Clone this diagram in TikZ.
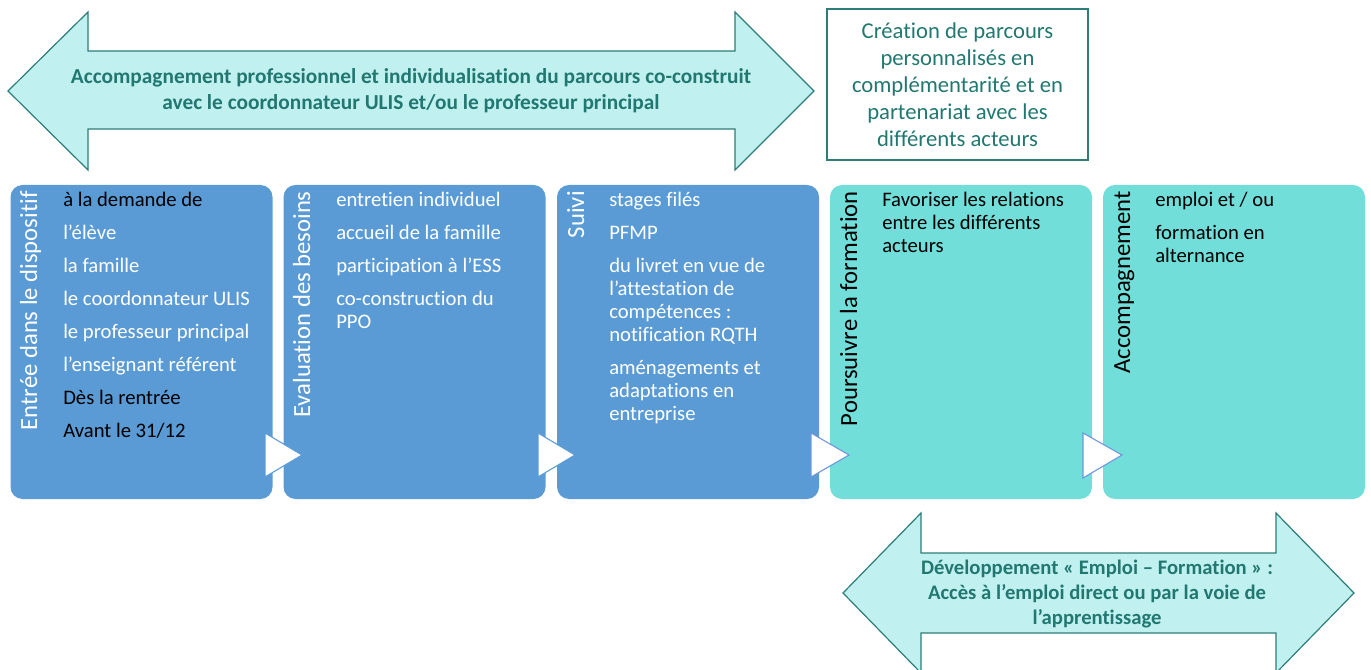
\documentclass[tikz,border=0pt]{standalone}
\usepackage{fontspec}
\setmainfont[Ligatures=NoCommon]{Carlito}
\definecolor{boxblue}{RGB}{91,155,213}
\definecolor{boxteal}{RGB}{113,222,218}
\definecolor{arrowfill}{RGB}{193,240,240}
\definecolor{arrowline}{RGB}{45,125,120}
\definecolor{arrowtext}{RGB}{33,120,112}
\definecolor{tristroke}{RGB}{110,150,220}
\begin{document}
\begin{tikzpicture}[x=0.75pt,y=-0.75pt,
  stage/.style={rounded corners=9pt, minimum width=196.5pt, minimum height=235.5pt, inner sep=0pt},
  bluestage/.style={stage, fill=boxblue},
  tealstage/.style={stage, fill=boxteal},
  vlabel/.style={rotate=90, anchor=base east, inner sep=0pt, font=\fontsize{18.5}{21}\selectfont},
  body/.style={anchor=north west, inner sep=0pt, align=left, font=\fontsize{15.5}{17.25}\selectfont},
  bigarrow/.style={fill=arrowfill, draw=arrowline, line width=0.9pt, line join=miter},
  arrowlabel/.style={align=center, text=arrowtext, font=\fontsize{16}{19.5}\selectfont\bfseries, inner sep=0pt},
  chevron/.style={fill=white, draw=tristroke, line width=0.8pt, line join=miter},
  crebox/.style={draw=arrowline, line width=0.9pt, text=arrowtext, align=center, minimum width=195.75pt, minimum height=113.25pt, inner sep=0pt, font=\fontsize{17}{20.25}\selectfont}
]
\useasboundingbox (0,0) rectangle (1371,670);
\clip (0,0) rectangle (1371,670);

% top double arrow
\draw[bigarrow] (8,91) -- (88,12) -- (88,51) -- (735,51) -- (735,12) -- (814,91)
  -- (735,170) -- (735,129) -- (88,129) -- (88,170) -- cycle;
\node[arrowlabel] (toptext) at (411,91) {Accompagnement professionnel et individualisation du parcours co-construit\\avec le coordonnateur ULIS et/ou le professeur principal};

% top right box
\node[crebox] (creation) at (957.5,84.5) {Création de parcours\\personnalisés en\\complémentarité et en\\partenariat avec les\\différents acteurs};

% stage boxes
\node[bluestage] (b1) at (141.5,342) {};
\node[bluestage] (b2) at (414.5,342) {};
\node[bluestage] (b3) at (688,342) {};
\node[tealstage] (b4) at (961,342) {};
\node[tealstage] (b5) at (1234,342) {};

% vertical labels
\node[vlabel, text=white] (l1) at (37,191) {Entrée dans le dispositif};
\node[vlabel, text=white] (l2) at (310,191) {Evaluation des besoins};
\node[vlabel, text=white] (l3) at (584,191) {Suivi};
\node[vlabel, text=black] (l4) at (857,191) {Poursuivre la formation};
\node[vlabel, text=black] (l5) at (1130,191) {Accompagnement};

% body texts
\node[body, text=white] (t1) at (63,190) {\rule{0pt}{12pt}\textcolor{black}{à la demande de}\\[7.5pt]
l’élève\\[7.5pt]
la famille\\[7.5pt]
le coordonnateur ULIS\\[7.5pt]
le professeur principal\\[7.5pt]
l’enseignant référent\\[7.5pt]
\textcolor{black}{Dès la rentrée}\\[7.5pt]
\textcolor{black}{Avant le 31/12}};

\node[body, text=white] (t2) at (336,190) {\rule{0pt}{12pt}entretien individuel\\[7.5pt]
accueil de la famille\\[7.5pt]
participation à l’ESS\\[7.5pt]
co-construction du\\
PPO};

\node[body, text=white] (t3) at (609,190) {\rule{0pt}{12pt}stages filés\\[7.5pt]
PFMP\\[7.5pt]
du livret en vue de\\
l’attestation de\\
compétences :\\
notification RQTH\\[7.5pt]
aménagements et\\
adaptations en\\
entreprise};

\node[body, text=black] (t4) at (882,190) {\rule{0pt}{12pt}Favoriser les relations\\
entre les différents\\
acteurs};

\node[body, text=black] (t5) at (1155,190) {\rule{0pt}{12pt}emploi et / ou\\[7.5pt]
formation en\\
alternance};

% chevrons between stages
\draw[chevron, draw=boxblue] (265,433) -- (302,455) -- (265,477) -- cycle;
\draw[chevron, draw=boxblue] (538,433) -- (575,455) -- (538,477) -- cycle;
\draw[chevron] (811,433) -- (849,455) -- (811,477) -- cycle;
\draw[chevron] (1083,433) -- (1122,455) -- (1083,478) -- cycle;

% bottom double arrow
\draw[bigarrow] (843,593) -- (921,513) -- (921,553) -- (1276,553) -- (1276,513) -- (1354,593)
  -- (1276,673) -- (1276,633) -- (921,633) -- (921,673) -- cycle;
\node[arrowlabel, font=\fontsize{15.5}{18.75}\selectfont\bfseries] (bottext) at (1097,594) {Développement « Emploi – Formation » :\\Accès à l’emploi direct ou par la voie de\\l’apprentissage};
\end{tikzpicture}
\end{document}
